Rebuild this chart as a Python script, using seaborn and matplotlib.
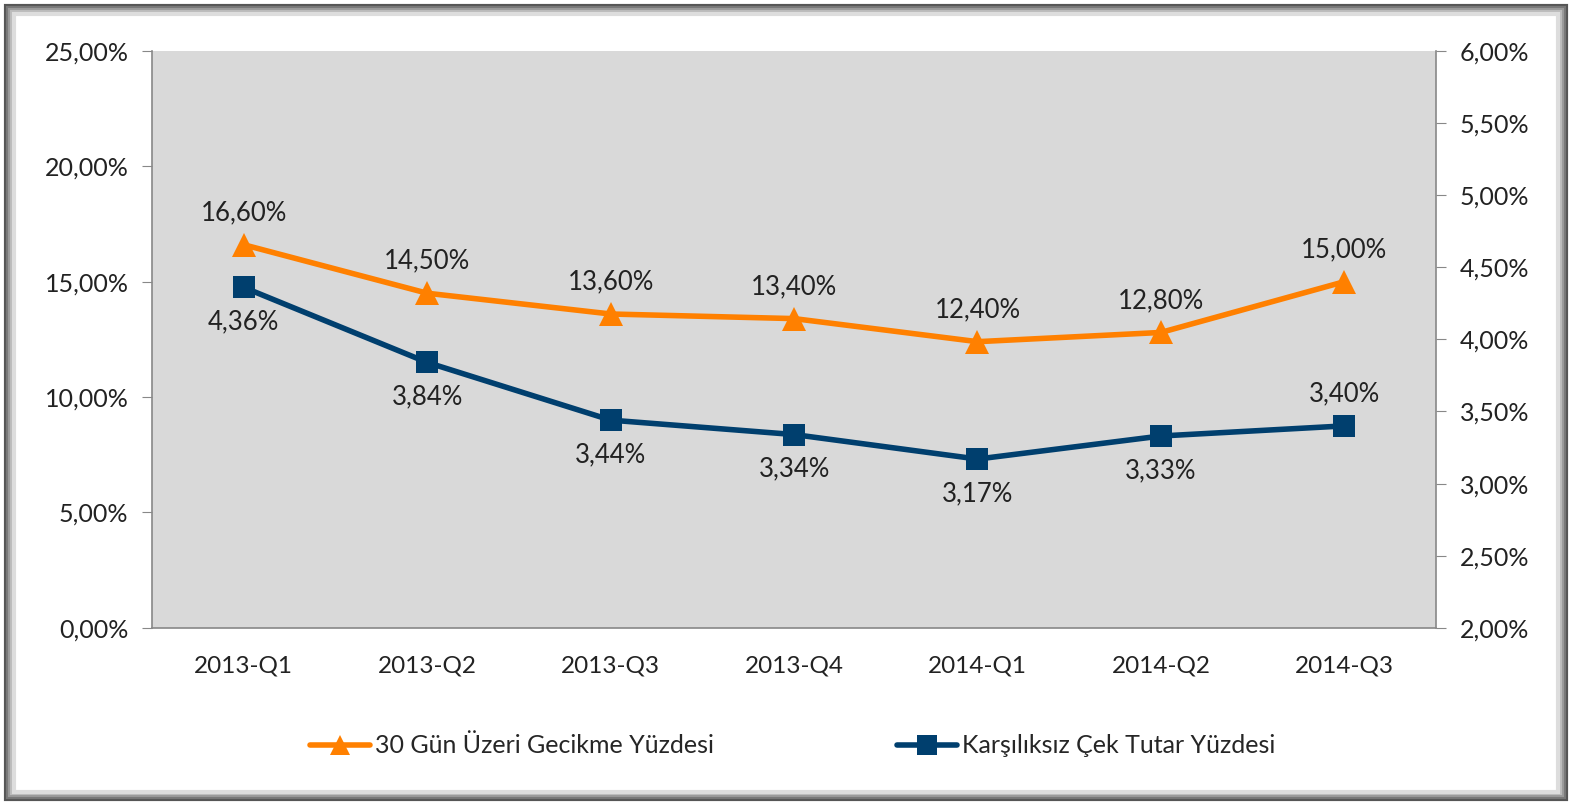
import matplotlib.pyplot as plt
import seaborn as sns
import pandas as pd
from matplotlib.patches import Rectangle
from matplotlib.lines import Line2D

quarters = ['2013-Q1', '2013-Q2', '2013-Q3', '2013-Q4', '2014-Q1', '2014-Q2', '2014-Q3']
gecikme = [16.60, 14.50, 13.60, 13.40, 12.40, 12.80, 15.00]
karsiliksiz = [4.36, 3.84, 3.44, 3.34, 3.17, 3.33, 3.40]
left_ticks = [0, 5, 10, 15, 20, 25]
right_ticks = [2.0, 2.5, 3.0, 3.5, 4.0, 4.5, 5.0, 5.5, 6.0]

orange = '#FF8000'
navy = '#003F6E'

sns.set_style('white')
plt.rcParams['font.family'] = ['Lato', 'DejaVu Sans']

df = pd.DataFrame({'ceyrek': quarters, 'gecikme': gecikme, 'karsiliksiz': karsiliksiz})
df['x'] = range(len(df))


def tr(v):
    return f'{v:.2f}'.replace('.', ',') + '%'


fig = plt.figure(figsize=(15.85, 8.09), dpi=100)
fig.patch.set_facecolor('white')
# shadowed frame
for i, c in enumerate(['#555555', '#777777', '#999999', '#bbbbbb', '#dddddd']):
    fig.add_artist(Rectangle((0.004 + i * 0.0012, 0.012 + i * 0.0024),
                             0.984 - i * 0.0024, 0.98 - i * 0.0048,
                             transform=fig.transFigure, fill=False, lw=3, ec=c))

ax = fig.add_axes([0.096, 0.224, 0.81, 0.713])
ax.set_facecolor('#D9D9D9')
sns.lineplot(data=df, x='x', y='gecikme', ax=ax, color=orange, lw=4,
             marker='^', markersize=17, markeredgewidth=0, legend=False)
ax.set_ylim(0, 25)
ax.set_xlim(-0.5, 6.5)
ax.set_yticks(left_ticks)
ax.set_yticklabels([tr(v) for v in left_ticks], fontsize=18, color='#222222')
ax.set_xticks(range(len(quarters)))
ax.set_xticklabels(quarters, fontsize=17.5, color='#222222')
ax.set_xticks([i - 0.5 for i in range(len(quarters) + 1)], minor=True)
ax.tick_params(axis='x', which='major', length=0, pad=20)
ax.tick_params(axis='x', which='minor', length=7, color='#888888')
ax.tick_params(axis='y', length=7, color='#888888', pad=10)
ax.set_xlabel('')
ax.set_ylabel('')
for s in ['top', 'right']:
    ax.spines[s].set_visible(False)
for s in ['left', 'bottom']:
    ax.spines[s].set_color('#888888')
    ax.spines[s].set_linewidth(1.2)

ax2 = ax.twinx()
sns.lineplot(data=df, x='x', y='karsiliksiz', ax=ax2, color=navy, lw=4,
             marker='s', markersize=16, markeredgewidth=0, legend=False)
ax2.set_ylim(2, 6)
ax2.set_yticks(right_ticks)
ax2.set_yticklabels([tr(v) for v in right_ticks], fontsize=18, color='#222222')
ax2.tick_params(axis='y', length=7, color='#888888', pad=10)
ax2.set_ylabel('')
for s in ['top', 'left', 'bottom']:
    ax2.spines[s].set_visible(False)
ax2.spines['right'].set_color('#888888')
ax2.spines['right'].set_linewidth(1.2)

for x, v in zip(df['x'], gecikme):
    ax.annotate(tr(v), (x, v), xytext=(0, 14), textcoords='offset points',
                ha='center', va='bottom', fontsize=18.5, color='#222222')
for x, v in zip(df['x'], karsiliksiz):
    dy = 14 if x == 6 else -16
    ax2.annotate(tr(v), (x, v), xytext=(0, dy), textcoords='offset points',
                 ha='center', va='bottom' if dy > 0 else 'top', fontsize=18.5, color='#222222')

handles = [Line2D([], [], color=orange, lw=4, marker='^', markersize=15, markeredgewidth=0),
           Line2D([], [], color=navy, lw=4, marker='s', markersize=14, markeredgewidth=0)]
fig.legend(handles, ['30 Gün Üzeri Gecikme Yüzdesi', 'Karşılıksız Çek Tutar Yüzdesi'],
           loc='center', bbox_to_anchor=(0.5, 0.078), ncol=2, frameon=False,
           fontsize=18, handlelength=2.4, handletextpad=0.2, columnspacing=7.3)

fig.savefig('out.png', dpi=100)
